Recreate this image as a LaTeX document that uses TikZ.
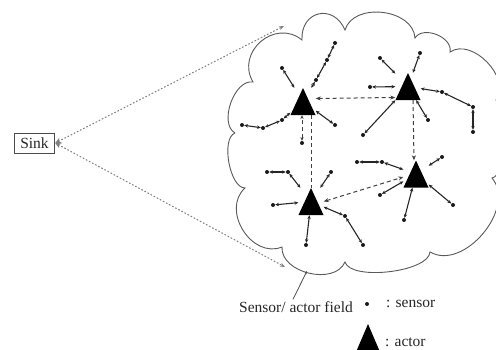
\documentclass[tikz,border=0pt]{standalone}
\usepackage{fontspec}
\setmainfont{Liberation Serif}
\usetikzlibrary{arrows.meta}
\begin{document}
\begin{tikzpicture}[x=1pt,y=1pt,
  lbl/.style={font=\fontsize{15.5}{18}\selectfont, inner sep=0pt, text=black!85},
  actor/.style={rectangle, minimum width=25pt, minimum height=27pt, inner sep=0pt,
    path picture={\fill[black] (path picture bounding box.north) -- (path picture bounding box.south west) -- (path picture bounding box.south east) -- cycle;}},
  sensor/.style={circle, fill=black!90, inner sep=0pt, minimum size=4pt},
  hop/.style={draw=black!85, line width=1.1pt, {Stealth[length=3.8pt,width=3.4pt]}-{Stealth[length=3.8pt,width=3.4pt]}},
  alink/.style={draw=black!75, line width=1pt, dash pattern=on 4pt off 3pt},
  atip/.style={{Stealth[length=5pt,width=4pt]}-{Stealth[length=5pt,width=4pt]}},
  sinklink/.style={draw=black!50, line width=1.1pt, dash pattern=on 1pt off 2.5pt, line cap=round},
  cloudline/.style={draw=black!65, line width=0.9pt},
]
\useasboundingbox (0,0) rectangle (496,349);

% cloud (sensor/actor field)
\draw[cloudline] (235,216) to[bend left=80, looseness=0.9] (253,267)
  to[bend left=80, looseness=1.38] (302,309)
  to[bend left=80, looseness=1.7] (345,319)
  to[bend left=80, looseness=1.07] (415,311)
  to[bend left=80, looseness=1.03] (450,297)
  to[bend left=80, looseness=1.03] (496,249)
  to[bend left=80, looseness=0.5] (492,171)
  to[bend left=80, looseness=1.03] (430,97)
  to[bend left=80, looseness=0.6] (345,87)
  to[bend left=80, looseness=1.03] (282,102)
  to[bend left=80, looseness=1.2] (245,161)
  to[bend left=80, looseness=0.7] (235,216);

% actors
\node[actor] (A1) at (303,247.5) {};
\node[actor] (A2) at (408,262.5) {};
\node[actor] (A3) at (311,147.5) {};
\node[actor] (A4) at (416,175) {};

% sensors
\foreach \n/\x/\y in {s1a/335/306, s1b/327/289, s1c/316/269, s1d/282/281,
  s1e/242/224, s1f/263/221, s1g/282/229, s1h/335/224, s1i/302/206,
  s2a/420/296, s2b/380/291, s2c/370/262, s2d/473/217, s2e/473/242, s2f/442/257,
  s2g/363/214, s2h/428/229,
  s3a/267/177, s3b/288/177, s3c/331/177, s3d/273/144, s3e/306/104, s3f/363/104, s3g/345/133,
  s4a/357/187, s4b/382/187, s4c/442/192, s4d/380/154, s4e/404/129, s4f/453/144}
  {\node[sensor] (\n) at (\x,\y) {};}

% sensor hops
\draw[hop] (s1a) -- (s1b); \draw[hop] (s1b) -- (s1c); \draw[hop] (s1c) -- (A1);
\draw[hop] (s1d) -- (A1);
\draw[hop] (s1e) -- (s1f); \draw[hop] (s1f) -- (s1g); \draw[hop] (s1g) -- (A1);
\draw[hop] (s1h) -- (A1);
\draw[alink, {Stealth[length=3.8pt,width=3.4pt]}-{Stealth[length=3.8pt,width=3.4pt]}] (s1i) -- (s1i |- A1.south);

\draw[hop] (s2a) -- (A2); \draw[hop] (s2b) -- (A2); \draw[hop] (s2c) -- (A2);
\draw[hop] (s2d) -- (s2e); \draw[hop] (s2e) -- (s2f); \draw[hop] (s2f) -- (A2);
\draw[hop] (s2g) -- (A2); \draw[hop] (s2h) -- (A2);

\draw[hop] (s3a) -- (s3b); \draw[hop] (s3b) -- (A3);
\draw[hop] (s3c) -- (A3); \draw[hop] (s3d) -- (A3); \draw[hop] (s3e) -- (A3);
\draw[hop] (s3f) -- (s3g); \draw[hop] (s3g) -- (A3);

\draw[hop] (s4a) -- (s4b); \draw[hop] (s4b) -- (A4);
\draw[hop] (s4c) -- (A4); \draw[hop] (s4d) -- (A4); \draw[hop] (s4e) -- (A4); \draw[hop] (s4f) -- (A4);

% actor-actor links
\draw[alink, atip] ([yshift=3pt]A1.east) -- ([yshift=-11pt]A2.west);
\draw[alink] (A1.south -| A3.north) -- (A3.north);
\draw[alink, -{Stealth[length=5pt,width=4pt]}] ([xshift=5pt]A2.south) -- ([xshift=-2pt]A4.north);
\draw[alink, atip] (A3.east) -- ([yshift=-3pt]A4.west);

% sink
\node[lbl, draw=black!70, line width=1pt, inner xsep=6pt, minimum height=20pt] (sink) at (34.5,206) {Sink};
\coordinate (t1) at (284,323);
\coordinate (t2) at (285,82);
\draw[sinklink, {Stealth[length=6pt,width=5.5pt]}-{Stealth[length=5pt,width=4pt]}] (sink.east) -- (t1);
\draw[sinklink, {Stealth[length=6pt,width=5.5pt]}-{Stealth[length=5pt,width=4pt]}] (sink.east) -- (t2);

% field label
\node[lbl] (field) at (296,42) {Sensor/ actor field};
\coordinate (fp) at (307,78);
\draw[draw=black!70, line width=0.8pt, -{Stealth[length=3pt,width=2.5pt]}] ([xshift=-3pt,yshift=2pt]field.north) -- (fp);

% legend
\node[sensor] (lgs) at (367,45) {};
\node[lbl, anchor=west] (lgst) at (386,45) {: sensor};
\node[actor, minimum width=24pt, minimum height=28pt] (lga) at (368,11) {};
\node[lbl, anchor=west] (lgat) at (385,7) {: actor};
\end{tikzpicture}
\end{document}
